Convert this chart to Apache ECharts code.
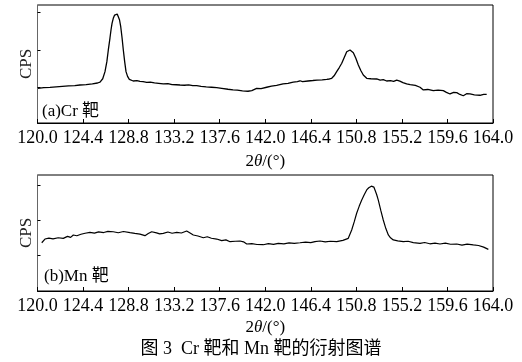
<!DOCTYPE html>
<html><head><meta charset="utf-8">
<script src="https://cdn.jsdelivr.net/npm/echarts@6/dist/echarts.min.js"></script>
<style>html,body{margin:0;padding:0;background:#fff}#c{width:522px;height:362px}</style>
</head><body><div id="c"></div>
<script>
const tickLabels = [120.0,124.4,128.8,133.2,137.6,142.0,146.4,150.8,155.2,159.6,164.0];
const yTicksA = [30,62,94];
const yTicksB = [31,61,91];
const panelLabels = ['(a)Cr 靶','(b)Mn 靶'];
const yName = 'CPS';
const xName = '2{i|θ}/(°)';
const caption = '图 3  Cr 靶和 Mn 靶的衍射图谱';

// Cr target: [2θ, CPS (arbitrary units, 0-100 of panel)]
const crData = [[120.05,29.4],[120.6,29.9],[121.2,30.2],[121.8,30.6],[122.4,31.0],[123.0,31.4],[123.6,31.7],[124.1,32.2],[124.7,32.6],[125.3,33.2],[125.8,33.9],[126.04,34.7],[126.3,37.5],[126.52,43.5],[126.7,52],[126.84,61.9],[127.0,72],[127.1,78.8],[127.2,84.5],[127.32,88.7],[127.45,91.5],[127.58,92.4],[127.7,92.3],[127.8,91.5],[127.92,87.5],[128.04,81.6],[128.17,72],[128.29,61.9],[128.42,52],[128.55,43.5],[128.7,39.5],[128.87,37.0],[129.25,35.6],[129.6,35.9],[129.9,35.2],[130.2,35.0],[130.55,34.5],[130.9,34.7],[131.3,34.0],[131.7,33.6],[132.15,33.1],[132.6,33.3],[133.0,32.6],[133.4,32.4],[133.77,32.2],[134.2,32.0],[134.6,32.3],[135.0,31.6],[135.38,31.6],[135.8,31.0],[136.3,30.6],[136.8,30.3],[137.31,29.9],[137.8,29.4],[138.4,28.6],[138.89,28.0],[139.3,27.8],[139.8,27.3],[140.33,26.9],[140.7,27.5],[141.17,29.4],[141.6,29.2],[142.14,30.3],[142.6,31.2],[143.1,31.8],[143.72,33.1],[144.2,33.6],[144.7,34.6],[145.1,35.1],[145.36,35.8],[145.6,35.1],[146.13,35.6],[146.6,36.0],[147.0,36.4],[147.5,36.6],[147.94,37.0],[148.2,37.3],[148.42,37.9],[148.65,40.0],[148.9,43.5],[149.15,47.0],[149.39,50.6],[149.63,55.5],[149.87,60.4],[150.03,61.6],[150.19,61.9],[150.35,61.2],[150.51,59.6],[150.75,54.8],[150.99,49.2],[151.23,44.5],[151.47,40.7],[151.8,37.9],[152.2,37.5],[152.77,37.3],[153.1,36.4],[153.4,36.8],[153.73,35.6],[154.1,35.9],[154.4,35.3],[154.7,36.4],[155.0,35.5],[155.3,34.2],[155.66,33.1],[156.0,32.5],[156.5,31.8],[156.95,30.3],[157.27,28.0],[157.7,28.4],[158.23,27.4],[158.7,27.9],[159.2,27.4],[159.5,26.0],[159.85,24.6],[160.2,25.9],[160.5,25.7],[160.8,24.2],[161.13,23.1],[161.45,24.8],[161.78,24.6],[162.2,23.9],[162.74,23.5],[163.1,24.3],[163.39,24.3]];

// Mn target
const mnData = [[120.41,41.6],[120.72,44.8],[121.1,45.6],[121.5,44.9],[122.0,45.9],[122.49,45.4],[122.9,47.1],[123.2,46.2],[123.46,48.3],[123.8,47.6],[124.2,48.9],[124.6,49.8],[125.07,50.6],[125.5,49.9],[125.9,51.0],[126.4,50.4],[126.8,51.4],[127.32,51.1],[127.8,50.2],[128.3,51.3],[128.94,50.3],[129.4,49.6],[129.9,49.0],[130.38,47.7],[130.7,49.5],[131.03,51.1],[131.5,50.1],[131.8,49.2],[132.15,49.7],[132.6,50.9],[133.0,49.8],[133.45,50.6],[133.9,50.0],[134.41,51.7],[134.7,50.2],[135.05,48.3],[135.5,47.4],[136.02,45.9],[136.4,46.8],[136.8,45.5],[137.31,44.8],[137.79,43.4],[138.2,44.1],[138.6,42.5],[139.1,42.9],[139.56,43.1],[139.9,42.4],[140.21,40.5],[140.7,40.9],[141.2,40.1],[141.81,39.9],[142.3,40.8],[142.8,40.2],[143.26,41.1],[143.8,40.6],[144.3,41.5],[144.8,41.0],[145.36,41.6],[145.9,42.2],[146.4,41.7],[146.8,42.6],[147.29,43.1],[147.8,42.3],[148.3,42.9],[148.9,42.5],[149.5,43.6],[150.02,45.4],[150.35,52.6],[150.6,59.8],[150.83,67.0],[151.08,73.2],[151.32,78.4],[151.56,83.0],[151.8,87.1],[152.0,89.0],[152.12,89.9],[152.25,90.4],[152.38,91.4],[152.5,89.5],[152.6,87.1],[152.76,83.2],[152.92,78.4],[153.16,69.5],[153.4,61.2],[153.65,53.8],[153.89,48.3],[154.1,45.9],[154.37,44.0],[154.8,43.2],[155.34,42.5],[155.8,42.9],[156.3,41.7],[156.95,41.1],[157.4,41.8],[157.9,40.7],[158.4,41.2],[158.88,40.5],[159.4,41.3],[159.9,40.3],[160.5,40.5],[161.0,39.6],[161.5,40.4],[162.1,39.7],[162.6,39.2],[163.1,37.8],[163.55,35.9]];

const SERIF = '"Liberation Serif","Noto Sans CJK SC",serif';
const chart = echarts.init(document.getElementById('c'), null, {renderer:'canvas'});

function xAxis(gi, gap){
  return {
    type:'value', gridIndex:gi, min:120, max:164,
    axisLine:{show:true, lineStyle:{color:'#000', width:1}},
    axisTick:{show:true, inside:true, length:4, customValues:tickLabels, lineStyle:{color:'#000'}},
    axisLabel:{show:true, customValues:tickLabels, formatter:v=>Number(v).toFixed(1),
      fontFamily:SERIF, fontSize:18, color:'#000', margin:6},
    splitLine:{show:false},
    name:xName, nameLocation:'middle', nameGap:gap,
    nameTextStyle:{fontFamily:SERIF, fontSize:17, color:'#000', rich:{i:{fontStyle:'italic', fontFamily:SERIF, fontSize:17, color:'#000'}}}
  };
}
function yAxis(gi, ticks){
  return {
    type:'value', gridIndex:gi, min:0, max:100,
    axisLine:{show:true, lineStyle:{color:'#666', width:1}},
    axisTick:{show:true, inside:true, length:3, customValues:ticks, lineStyle:{color:'#000'}},
    axisLabel:{show:false},
    splitLine:{show:false},
    name:yName, nameLocation:'middle', nameGap:2, nameRotate:90,
    nameTextStyle:{fontFamily:SERIF, fontSize:17, color:'#222'}
  };
}

chart.setOption({
  animation:false,
  backgroundColor:'#fff',
  grid:[
    {left:37.5, right:29, top:5, height:118, show:true, borderColor:'#000', borderWidth:1},
    {left:37.5, right:29, top:175, height:116, show:true, borderColor:'#000', borderWidth:1}
  ],
  xAxis:[xAxis(0, 30), xAxis(1, 28)],
  yAxis:[yAxis(0, yTicksA), yAxis(1, yTicksB)],
  series:[
    {type:'line', xAxisIndex:0, yAxisIndex:0, data:crData, showSymbol:false, lineStyle:{color:'#000', width:1.3}},
    {type:'line', xAxisIndex:1, yAxisIndex:1, data:mnData, showSymbol:false, lineStyle:{color:'#000', width:1.2}}
  ],
  graphic:[
    {type:'text', left:42, top:103, style:{text:panelLabels[0], font:'17px '+SERIF, fill:'#000'}},
    {type:'text', left:44, top:268, style:{text:panelLabels[1], font:'17px '+SERIF, fill:'#000'}},
    {type:'text', left:'center', top:340, style:{text:caption, font:'18px '+SERIF, fill:'#000'}}
  ]
});
</script></body></html>
